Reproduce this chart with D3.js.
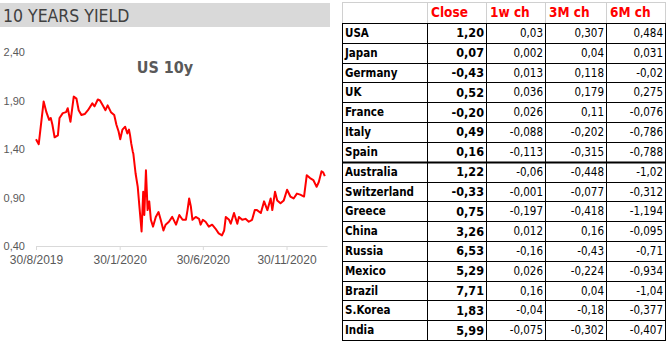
<!DOCTYPE html>
<html>
<head>
<meta charset="utf-8">
<script src="https://cdn.jsdelivr.net/npm/d3@7"></script>
<style>
  body { margin: 0; background: #fff; }
  svg { display: block; font-family: Tahoma, 'DejaVu Sans Condensed', 'DejaVu Sans', sans-serif; }
</style>
</head>
<body>
<div id="chart"></div>
<script>
// US 10y yield
const yieldSeries = [
  ['2019-08-30', 1.50], ['2019-09-04', 1.45], ['2019-09-13', 1.89], ['2019-09-18', 1.78],
  ['2019-09-23', 1.70], ['2019-09-26', 1.72], ['2019-09-29', 1.65], ['2019-10-03', 1.52],
  ['2019-10-09', 1.54], ['2019-10-12', 1.72], ['2019-10-18', 1.77], ['2019-10-24', 1.78],
  ['2019-10-27', 1.82], ['2019-11-01', 1.68], ['2019-11-07', 1.94], ['2019-11-12', 1.92],
  ['2019-11-16', 1.80], ['2019-11-21', 1.75], ['2019-11-27', 1.76], ['2019-12-03', 1.80],
  ['2019-12-11', 1.87], ['2019-12-15', 1.84], ['2019-12-21', 1.91], ['2019-12-25', 1.90],
  ['2019-12-30', 1.85], ['2020-01-04', 1.80], ['2020-01-08', 1.85], ['2020-01-14', 1.78],
  ['2020-01-20', 1.75], ['2020-01-24', 1.65], ['2020-01-28', 1.58], ['2020-01-31', 1.50],
  ['2020-02-04', 1.60], ['2020-02-09', 1.63], ['2020-02-13', 1.56], ['2020-02-16', 1.60],
  ['2020-02-18', 1.54], ['2020-02-20', 1.46], ['2020-02-23', 1.37], ['2020-02-24', 1.35],
  ['2020-02-28', 1.15], ['2020-03-03', 1.01], ['2020-03-06', 0.81], ['2020-03-10', 0.55],
  ['2020-03-13', 0.96], ['2020-03-15', 0.72], ['2020-03-18', 1.18], ['2020-03-21', 0.77],
  ['2020-03-24', 0.86], ['2020-03-27', 0.67], ['2020-03-31', 0.60], ['2020-04-05', 0.70],
  ['2020-04-10', 0.75], ['2020-04-14', 0.67], ['2020-04-19', 0.56], ['2020-04-23', 0.62],
  ['2020-04-29', 0.65], ['2020-05-05', 0.70], ['2020-05-12', 0.62], ['2020-05-18', 0.72],
  ['2020-05-24', 0.67], ['2020-05-30', 0.67], ['2020-06-02', 0.77], ['2020-06-05', 0.89],
  ['2020-06-08', 0.81], ['2020-06-11', 0.67], ['2020-06-17', 0.70], ['2020-06-23', 0.68],
  ['2020-06-26', 0.62], ['2020-06-30', 0.67], ['2020-07-05', 0.65], ['2020-07-11', 0.60],
  ['2020-07-17', 0.62], ['2020-07-23', 0.58], ['2020-07-29', 0.53], ['2020-08-04', 0.51],
  ['2020-08-08', 0.56], ['2020-08-11', 0.70], ['2020-08-17', 0.67], ['2020-08-20', 0.63],
  ['2020-08-26', 0.74], ['2020-09-01', 0.63], ['2020-09-04', 0.70], ['2020-09-10', 0.67],
  ['2020-09-16', 0.68], ['2020-09-22', 0.65], ['2020-09-28', 0.67], ['2020-10-03', 0.77],
  ['2020-10-07', 0.77], ['2020-10-14', 0.74], ['2020-10-20', 0.86], ['2020-10-26', 0.77],
  ['2020-11-01', 0.89], ['2020-11-04', 0.77], ['2020-11-09', 0.96], ['2020-11-13', 0.87],
  ['2020-11-19', 0.84], ['2020-11-25', 0.87], ['2020-12-01', 0.98], ['2020-12-07', 0.91],
  ['2020-12-13', 0.89], ['2020-12-19', 0.94], ['2020-12-25', 0.93], ['2021-01-01', 0.91],
  ['2021-01-06', 1.13], ['2021-01-12', 1.10], ['2021-01-18', 1.08], ['2021-01-24', 1.01],
  ['2021-01-28', 1.06], ['2021-02-02', 1.17], ['2021-02-05', 1.16], ['2021-02-08', 1.12]
];

const yTicks = [0.4, 0.9, 1.4, 1.9, 2.4];
const xTicks = ['2019-08-30', '2020-01-30', '2020-06-30', '2020-11-30'];

const countries = ['USA', 'Japan', 'Germany', 'UK', 'France', 'Italy', 'Spain', 'Australia',
  'Switzerland', 'Greece', 'China', 'Russia', 'Mexico', 'Brazil', 'S.Korea', 'India'];
const headers = ['', 'Close', '1w ch', '3M ch', '6M ch'];
const close = ['1,20', '0,07', '-0,43', '0,52', '-0,20', '0,49', '0,16', '1,22',
  '-0,33', '0,75', '3,26', '6,53', '5,29', '7,71', '1,83', '5,99'];
const ch1w = ['0,03', '0,002', '0,013', '0,036', '0,026', '-0,088', '-0,113', '-0,06',
  '-0,001', '-0,197', '0,012', '-0,16', '0,026', '0,16', '-0,04', '-0,075'];
const ch3m = ['0,307', '0,04', '0,118', '0,179', '0,11', '-0,202', '-0,315', '-0,448',
  '-0,077', '-0,418', '0,16', '-0,43', '-0,224', '0,04', '-0,18', '-0,302'];
const ch6m = ['0,484', '0,031', '-0,02', '0,275', '-0,076', '-0,786', '-0,788', '-1,02',
  '-0,312', '-1,194', '-0,095', '-0,71', '-0,934', '-1,04', '-0,377', '-0,407'];

const width = 668, height = 343;
const parse = d3.utcParse('%Y-%m-%d');
const locale = d3.formatLocale({ decimal: ',', thousands: '.', grouping: [3], currency: ['', '€'] });
const fmt = locale.format('.2f');

const svg = d3.select('#chart').append('svg')
  .attr('width', width)
  .attr('height', height)
  .attr('viewBox', [0, 0, width, height]);

// ---- left panel: line chart
svg.append('rect')
  .attr('x', 0).attr('y', 3)
  .attr('width', 330).attr('height', 24)
  .attr('fill', '#d9d9d9');
svg.append('text')
  .attr('x', 3).attr('y', 21.5)
  .attr('font-size', 17.5)
  .attr('fill', '#404040')
  .text('10 YEARS YIELD');

const x = d3.scaleUtc()
  .domain([parse('2019-08-30'), parse('2021-02-12')])
  .range([36, 327]);
const y = d3.scaleLinear()
  .domain([0.4, 2.4])
  .range([246, 52]);

const xAxis = svg.append('g')
  .attr('transform', 'translate(0,246)')
  .call(d3.axisBottom(x)
    .tickValues(xTicks.map(parse))
    .tickFormat(d3.utcFormat('%-d/%-m/%Y'))
    .tickSizeInner(4).tickSizeOuter(0));
xAxis.selectAll('path,line').attr('stroke', '#d9d9d9');
xAxis.selectAll('text')
  .attr('font-size', 12)
  .attr('fill', '#595959')
  .attr('font-family', 'inherit')
  .attr('dy', '0.95em');

const yAxis = svg.append('g')
  .attr('transform', 'translate(25,0)')
  .call(d3.axisLeft(y).tickValues(yTicks).tickFormat(fmt).tickSize(0));
yAxis.select('.domain').remove();
yAxis.selectAll('text')
  .attr('font-size', 11)
  .attr('fill', '#595959')
  .attr('font-family', 'inherit')
  .attr('x', 0);

svg.append('text')
  .attr('x', 165).attr('y', 73)
  .attr('text-anchor', 'middle')
  .attr('font-size', 16)
  .attr('font-weight', 'bold')
  .attr('fill', '#595959')
  .text('US 10y');

const line = d3.line()
  .x(d => x(parse(d[0])))
  .y(d => y(d[1]));

svg.append('path')
  .datum(yieldSeries)
  .attr('d', line)
  .attr('fill', 'none')
  .attr('stroke', '#ff0000')
  .attr('stroke-width', 2)
  .attr('stroke-linejoin', 'round');

// ---- right panel: table
const colEdges = [342, 427, 486, 545, 606, 665];
const headTop = 2, headBottom = 23;
const rowY = d3.scaleBand()
  .domain(countries)
  .range([headBottom, 340]);

const table = svg.append('g');

// header grid (light)
table.append('line')
  .attr('x1', colEdges[0]).attr('x2', colEdges[5])
  .attr('y1', headTop + 0.5).attr('y2', headTop + 0.5)
  .attr('stroke', '#d0d0d0');
table.selectAll('.hv')
  .data(colEdges)
  .enter().append('line')
  .attr('x1', d => d + 0.5).attr('x2', d => d + 0.5)
  .attr('y1', headTop).attr('y2', headBottom)
  .attr('stroke', '#d0d0d0');

// body grid (dark)
table.selectAll('.bv')
  .data(colEdges)
  .enter().append('line')
  .attr('x1', d => d + 0.5).attr('x2', d => d + 0.5)
  .attr('y1', headBottom).attr('y2', rowY.range()[1] + 0.5)
  .attr('stroke', '#000');
table.selectAll('.bh')
  .data(countries.concat(['__end']))
  .enter().append('line')
  .attr('x1', colEdges[0]).attr('x2', colEdges[5] + 1)
  .attr('y1', d => Math.round(d === '__end' ? rowY.range()[1] : rowY(d)) + 0.5)
  .attr('y2', d => Math.round(d === '__end' ? rowY.range()[1] : rowY(d)) + 0.5)
  .attr('stroke', '#000')
  .attr('stroke-width', d => d === 'Australia' ? 2 : 1);

// headers
table.selectAll('.head')
  .data(headers)
  .enter().append('text')
  .attr('x', (d, i) => colEdges[i] + 4)
  .attr('y', 17)
  .attr('font-size', 13.5)
  .attr('font-weight', 'bold')
  .attr('fill', '#ff0000')
  .text(d => d);

const rows = table.selectAll('.row')
  .data(countries)
  .enter().append('g')
  .attr('transform', d => `translate(0,${rowY(d) + rowY.bandwidth() / 2})`);

rows.append('text')
  .attr('x', colEdges[0] + 3)
  .attr('dy', '0.36em')
  .attr('font-size', 11.5)
  .attr('font-weight', 'bold')
  .attr('fill', '#000')
  .text(d => d);

rows.append('text')
  .attr('x', colEdges[2] - 2)
  .attr('dy', '0.36em')
  .attr('text-anchor', 'end')
  .attr('font-size', 12.5)
  .attr('font-weight', 'bold')
  .attr('fill', '#000')
  .text((d, i) => close[i]);

[ch1w, ch3m, ch6m].forEach((col, c) => {
  rows.append('text')
    .attr('x', colEdges[c + 3] - 2)
    .attr('dy', '0.36em')
    .attr('text-anchor', 'end')
    .attr('font-size', 11.5)
    .attr('fill', '#000')
    .text((d, i) => col[i]);
});
</script>
</body>
</html>
